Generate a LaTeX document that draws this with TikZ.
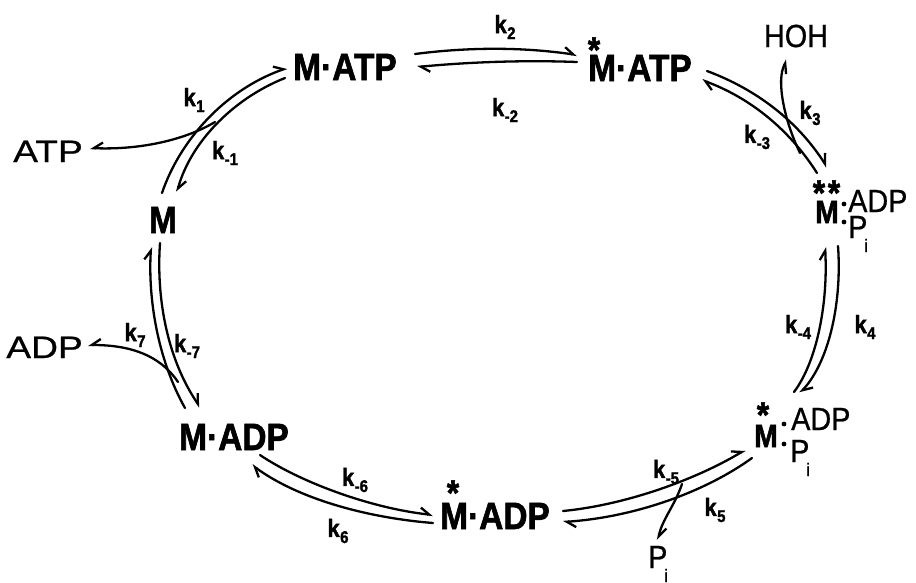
\documentclass[tikz,border=0pt]{standalone}
\usepackage{fontspec}
\setmainfont{Liberation Sans}
\newfontfamily\hfont[FakeStretch=0.88,BoldFeatures={FakeBold=1.6}]{Liberation Sans}
\newfontfamily\nfont[FakeStretch=0.9,FakeBold=0.7]{Liberation Sans}
\newfontfamily\wfont[FakeStretch=1.2,FakeBold=0.7]{Liberation Sans}
\usetikzlibrary{arrows.meta}
\newcommand{\kr}[1]{k\kern0.5pt\raisebox{-6pt}{\fontsize{17}{17}\selectfont #1}}
\newcommand{\subi}{\kern-3pt\raisebox{-14pt}{\fontsize{18}{18}\selectfont i}}
\newcommand{\starglyph}{\raisebox{-15pt}[11pt][0pt]{*}}
\tikzset{
  big/.style={font=\hfont\bfseries\fontsize{38}{38}\selectfont, inner sep=0pt},
  mid/.style={font=\hfont\bfseries\fontsize{32}{32}\selectfont, inner sep=0pt},
  reg/.style={font=\nfont\fontsize{32}{32}\selectfont, inner sep=0pt},
  wide/.style={font=\wfont\fontsize{31}{31}\selectfont, inner sep=0pt},
  star/.style={font=\hfont\bfseries\fontsize{36}{36}\selectfont, inner sep=0pt, anchor=north},
  dotc/.style={circle, fill, inner sep=0pt, minimum size=4.8pt},
  rate/.style={font=\hfont\bfseries\fontsize{25}{25}\selectfont, inner sep=0pt},
  rx/.style={line width=2.3pt, line cap=round, -{Straight Barb[harpoon,length=9pt,width=12pt]}},
  rxs/.style={line width=2.3pt, line cap=round, -{Straight Barb[harpoon,swap,length=9pt,width=12pt]}},
}
\begin{document}
\begin{tikzpicture}[x=1pt,y=-1pt]
\useasboundingbox (0,0) rectangle (916,582);
% species
\node[big,anchor=base] (matp) at (345,80) {M·ATP};
\node[big,anchor=base] (smatp) at (640,81) {M·ATP};
\node[star] (s1) at (594,36) {\starglyph};
\node[mid,anchor=base] (mm2) at (827,223) {M};
\node[star] (s2a) at (819,179) {\starglyph};
\node[star] (s2b) at (834,179) {\starglyph};
\node[dotc] (d2a) at (844,204) {};
\node[dotc] (d2b) at (844,222) {};
\node[reg,anchor=base west] (adp2) at (848,212) {ADP};
\node[reg,anchor=base west] (pi2) at (848,238) {P\subi};
\node[mid,anchor=base] (mm3) at (766,447) {M};
\node[star] (s3) at (763,401) {\starglyph};
\node[dotc] (d3a) at (784,424) {};
\node[dotc] (d3b) at (784,444) {};
\node[reg,anchor=base west] (adp3) at (791,430) {ADP};
\node[reg,anchor=base west] (pi3) at (790,462) {P\subi};
\node[big,anchor=base] (smadp) at (495,529) {M·ADP};
\node[star] (s4) at (453,479) {\starglyph};
\node[big,anchor=base] (madp) at (234,450) {M·ADP};
\node[big,anchor=base] (m) at (163,233) {M};
% side species
\node[reg,anchor=base] (hoh) at (796,47) {HOH};
\node[wide,anchor=base east] (atp) at (83,162) {ATP};
\node[wide,anchor=base east] (adp) at (83,358) {ADP};
\node[reg,anchor=base west] (pi) at (648,568) {P\subi};
% rate constants
\node[rate] (k2) at (505,27) {\kr{2}};
\node[rate] (km2) at (505,110) {\kr{-2}};
\node[rate] (k3) at (810,113) {\kr{3}};
\node[rate] (km3) at (757,137) {\kr{-3}};
\node[rate] (k4) at (865,327) {\kr{4}};
\node[rate] (km4) at (798,327) {\kr{-4}};
\node[rate] (k5) at (715,510) {\kr{5}};
\node[rate] (km5) at (666,472) {\kr{-5}};
\node[rate] (k6) at (338,531) {\kr{6}};
\node[rate] (km6) at (355,480) {\kr{-6}};
\node[rate] (k7) at (135,335) {\kr{7}};
\node[rate] (km7) at (187,346) {\kr{-7}};
\node[rate] (k1) at (194,100) {\kr{1}};
\node[rate] (km1) at (225,153) {\kr{-1}};
% connector end points
\coordinate (a1) at (415,54);  \coordinate (b1) at (577,55);
\coordinate (a2) at (577,62);  \coordinate (b2) at (417,67);
\coordinate (a3) at (707,71);  \coordinate (b3) at (827,167);
\coordinate (a4) at (817,173); \coordinate (b4) at (702,80);
\coordinate (a5) at (800,153); \coordinate (b5) at (787,60);
\coordinate (a6) at (838,246); \coordinate (b6) at (800,393);
\coordinate (a7) at (794,392); \coordinate (b7) at (825,247);
\coordinate (a8) at (752,458); \coordinate (b8) at (563,522);
\coordinate (a9) at (563,511); \coordinate (b9) at (745,450);
\coordinate (a10) at (682,484); \coordinate (b10) at (658,540);
\coordinate (a11) at (433,523); \coordinate (b11) at (252,465);
\coordinate (a12) at (260,455); \coordinate (b12) at (433,515);
\coordinate (a13) at (185,408); \coordinate (b13) at (151,247);
\coordinate (a14) at (160,243); \coordinate (b14) at (200,407);
\coordinate (a15) at (178,382); \coordinate (b15) at (88,345);
\coordinate (a16) at (162,193); \coordinate (b16) at (287,68);
\coordinate (a17) at (285,78);  \coordinate (b17) at (177,192);
\coordinate (a18) at (215,122); \coordinate (b18) at (90,148);
% connectors
\draw[rx] (a1) .. controls (469,47) and (523,47) .. (b1);
\draw[rx] (a2) .. controls (524,60) and (470,62) .. (b2);
\draw[rx] (a3) .. controls (758,90) and (798,122) .. (b3);
\draw[rx] (a4) .. controls (789,129) and (750,98) .. (b4);
\draw[rxs] (a5) .. controls (784,120) and (776,80) .. (b5);
\draw[rx] (a6) .. controls (842,300) and (830,360) .. (b6);
\draw[rx] (a7) .. controls (818,360) and (828,300) .. (b7);
\draw[rx] (a8) .. controls (705,492) and (635,517) .. (b8);
\draw[rx] (a9) .. controls (625,505) and (695,480) .. (b9);
\draw[rx] (a10) .. controls (675,505) and (662,520) .. (b10);
\draw[rx] (a11) .. controls (370,518) and (300,500) .. (b11);
\draw[rx] (a12) .. controls (300,482) and (370,508) .. (b12);
\draw[rx] (a13) .. controls (158,360) and (148,300) .. (b13);
\draw[rx] (a14) .. controls (156,300) and (168,360) .. (b14);
\draw[rxs] (a15) .. controls (160,355) and (130,345) .. (b15);
\draw[rx] (a16) .. controls (180,140) and (225,90) .. (b16);
\draw[rx] (a17) .. controls (230,100) and (190,145) .. (b17);
\draw[rxs] (a18) .. controls (185,140) and (140,150) .. (b18);
\end{tikzpicture}
\end{document}
